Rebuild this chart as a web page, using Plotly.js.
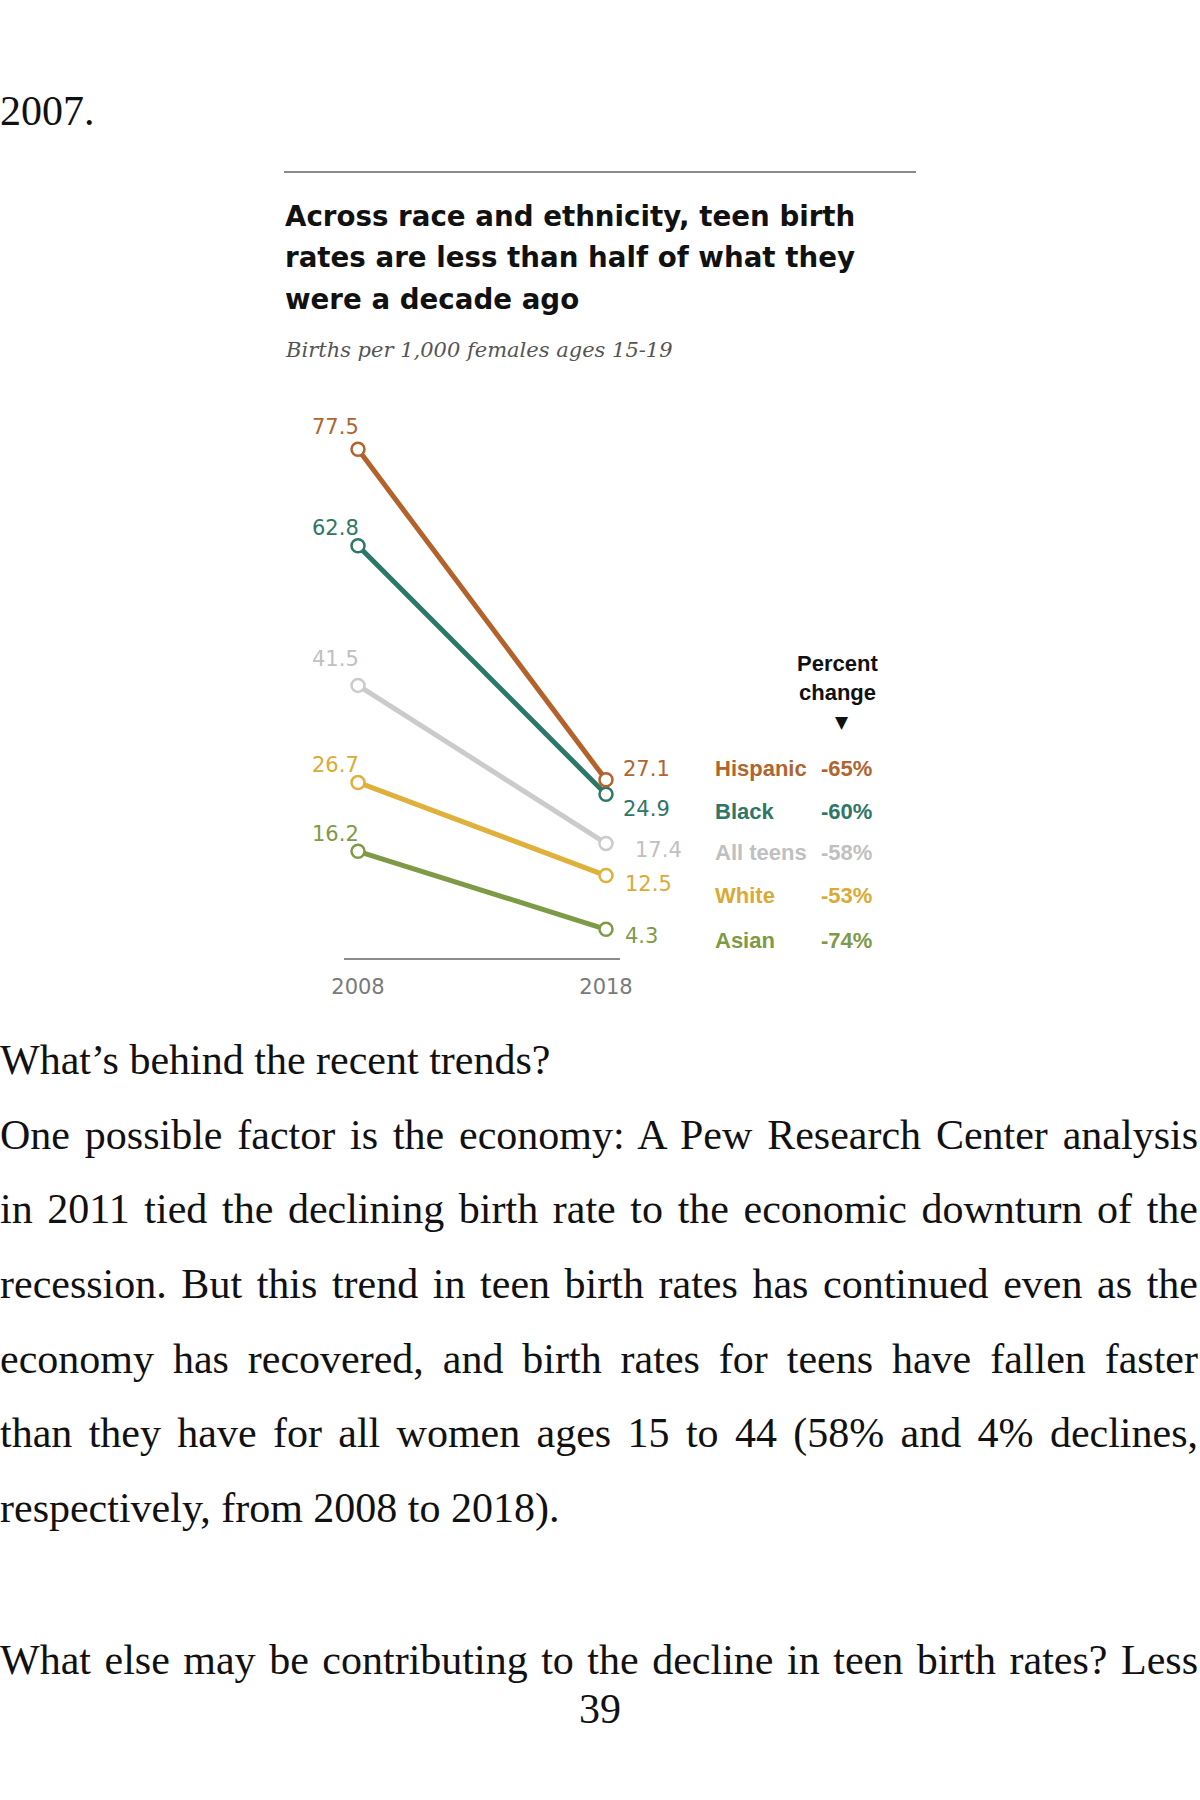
<!DOCTYPE html>
<html>
<head>
<meta charset="utf-8">
<script src="https://cdn.plot.ly/plotly-3.0.1.min.js"></script>
<style>
  html, body { margin: 0; padding: 0; background: #ffffff; }
  body { width: 1200px; height: 1800px; position: relative; overflow: hidden; }
  .ln { position: absolute; left: 0; white-space: nowrap; font-family: "Liberation Serif", "Times New Roman", serif;
        font-size: 42px; line-height: 42px; color: #111; }
  #chart { position: absolute; left: 260px; top: 150px; width: 680px; height: 860px; }
</style>
</head>
<body>
<div class="ln" style="top:90px"><span>2007.</span></div>
<div class="ln" style="top:1039px"><span>What’s behind the recent trends?</span></div>
<div class="ln just" style="top:1114px"><span>One possible factor is the economy: A Pew Research Center analysis</span></div>
<div class="ln just" style="top:1188px"><span>in 2011 tied the declining birth rate to the economic downturn of the</span></div>
<div class="ln just" style="top:1263px"><span>recession. But this trend in teen birth rates has continued even as the</span></div>
<div class="ln just" style="top:1338px"><span>economy has recovered, and birth rates for teens have fallen faster</span></div>
<div class="ln just" style="top:1412px"><span>than they have for all women ages 15 to 44 (58% and 4% declines,</span></div>
<div class="ln" style="top:1487px"><span>respectively, from 2008 to 2018).</span></div>
<div class="ln just" style="top:1639px"><span>What else may be contributing to the decline in teen birth rates? Less</span></div>
<div class="ln" style="top:1688px; left:0; width:1200px; text-align:center;"><span>39</span></div>

<div id="chart"></div>

<script>
// ---- data ----
const years = [2008, 2018];
const yearLabels = ['2008', '2018'];
const seriesNames = ['Hispanic', 'Black', 'All teens', 'White', 'Asian'];
const rate2008 = [77.5, 62.8, 41.5, 26.7, 16.2];
const rate2018 = [27.1, 24.9, 17.4, 12.5, 4.3];
const pctChange = ['-65%', '-60%', '-58%', '-53%', '-74%'];
const chartTitleLines = ['Across race and ethnicity, teen birth', 'rates are less than half of what they', 'were a decade ago'];
const chartSubtitle = 'Births per 1,000 females ages 15-19';

// ---- styles ----
const lineColors = ['#b3622b', '#2e7767', '#cbcbcb', '#dfb03a', '#7f9a47'];
const textColors = ['#b0652f', '#2e7767', '#c0c0c0', '#d9ab35', '#7f9a47'];
const lab08Shift = [22, 18, 26, 17, 17];
const lab18DX = [15, 15, 27, 17, 17];
const lab18DY = [11, -15, -7, -8, -7];

// chart box in page pixels
const BX = 260, BY = 150, BW = 680, BH = 860;
const fx = px => (px - BX) / BW;
const fy = py => 1 - (py - BY) / BH;

const traces = [];
for (let i = seriesNames.length - 1; i >= 0; i--) {
  traces.push({
    x: years, y: [rate2008[i], rate2018[i]],
    type: 'scatter', mode: 'lines+markers', name: seriesNames[i],
    line: { color: lineColors[i], width: 5 },
    marker: { symbol: 'circle', size: 13, color: '#ffffff', line: { color: lineColors[i], width: 2.5 } },
    cliponaxis: false, hoverinfo: 'skip'
  });
}

const ann = [];
const valFont = (c) => ({ family: 'DejaVu Sans, sans-serif', size: 21, color: c });
seriesNames.forEach((nm, i) => {
  ann.push({ xref: 'x', yref: 'y', x: years[0], y: rate2008[i], text: rate2008[i].toFixed(1),
    showarrow: false, xanchor: 'right', yanchor: 'middle', xshift: 3, yshift: lab08Shift[i], font: valFont(textColors[i]) });
  ann.push({ xref: 'x', yref: 'y', x: years[1], y: rate2018[i], text: rate2018[i].toFixed(1),
    showarrow: false, xanchor: 'left', yanchor: 'middle', xshift: lab18DX[i], yshift: lab18DY[i], font: valFont(textColors[i]) });
});

// legend-like table
const rowY = [768, 811, 852, 895, 940];
const legFont = (c) => ({ family: 'Liberation Sans, Arial, sans-serif', size: 22, color: c, weight: 700 });
seriesNames.forEach((nm, i) => {
  ann.push({ xref: 'paper', yref: 'paper', x: fx(713), y: fy(rowY[i]), text: '<b>' + nm + '</b>',
    showarrow: false, xanchor: 'left', yanchor: 'middle', font: legFont(textColors[i]) });
  ann.push({ xref: 'paper', yref: 'paper', x: fx(874), y: fy(rowY[i]), text: '<b>' + pctChange[i] + '</b>',
    showarrow: false, xanchor: 'right', yanchor: 'middle', font: legFont(textColors[i]) });
});
ann.push({ xref: 'paper', yref: 'paper', x: fx(837), y: fy(663), text: '<b>Percent</b>', showarrow: false,
  xanchor: 'center', yanchor: 'middle', font: legFont('#111') });
ann.push({ xref: 'paper', yref: 'paper', x: fx(837), y: fy(692), text: '<b>change</b>', showarrow: false,
  xanchor: 'center', yanchor: 'middle', font: legFont('#111') });
ann.push({ xref: 'paper', yref: 'paper', x: fx(842), y: fy(722), text: '▼', showarrow: false,
  xanchor: 'center', yanchor: 'middle', font: { family: 'DejaVu Sans, sans-serif', size: 17, color: '#111' } });

// title & subtitle
const titleY = [216, 257, 300];
chartTitleLines.forEach((t, k) => {
  ann.push({ xref: 'paper', yref: 'paper', x: fx(283), y: fy(titleY[k]), text: '<b>' + t + '</b>', showarrow: false,
    xanchor: 'left', yanchor: 'middle', font: { family: 'DejaVu Sans, sans-serif', size: 27.7, color: '#111' } });
});
ann.push({ xref: 'paper', yref: 'paper', x: fx(283), y: fy(350), text: '<i>' + chartSubtitle + '</i>', showarrow: false,
  xanchor: 'left', yanchor: 'middle', font: { family: 'DejaVu Serif, serif', size: 21, color: '#555' } });

const pxPerUnit = 6.557, y0px = 957.5, yMax = 85;
const padYears = 14 / 248 * (years[1] - years[0]);

const layout = {
  width: BW, height: BH,
  margin: { l: 0, r: 0, t: 0, b: 0, pad: 0 },
  paper_bgcolor: '#ffffff', plot_bgcolor: 'rgba(0,0,0,0)',
  showlegend: false,
  xaxis: {
    domain: [fx(344), fx(620)], range: [years[0] - padYears, years[1] + padYears],
    showline: true, linecolor: '#8c8c8c', linewidth: 2.5, showgrid: false, zeroline: false,
    tickmode: 'array', tickvals: years, ticktext: yearLabels, ticks: '', ticklabelstandoff: 9,
    tickfont: { family: 'DejaVu Sans, sans-serif', size: 21, color: '#7a7a7a' }, fixedrange: true
  },
  yaxis: {
    domain: [fy(y0px), fy(y0px - yMax * pxPerUnit)], range: [0, yMax], visible: false, fixedrange: true
  },
  shapes: [{ type: 'line', xref: 'paper', yref: 'paper', x0: fx(284), x1: fx(916), y0: fy(172), y1: fy(172),
    line: { color: '#8a8a8a', width: 2 } }],
  annotations: ann
};

Plotly.newPlot('chart', traces, layout, { displayModeBar: false, staticPlot: true });

// justify book lines to the full text width
function justify() {
  document.querySelectorAll('.just span').forEach(sp => {
    sp.style.wordSpacing = '0px';
    const w = sp.getBoundingClientRect().width;
    const n = (sp.textContent.match(/ /g) || []).length;
    if (n > 0) sp.style.wordSpacing = ((1198 - w) / n) + 'px';
  });
}
if (document.fonts && document.fonts.ready) document.fonts.ready.then(justify); else justify();
justify();
</script>
</body>
</html>
